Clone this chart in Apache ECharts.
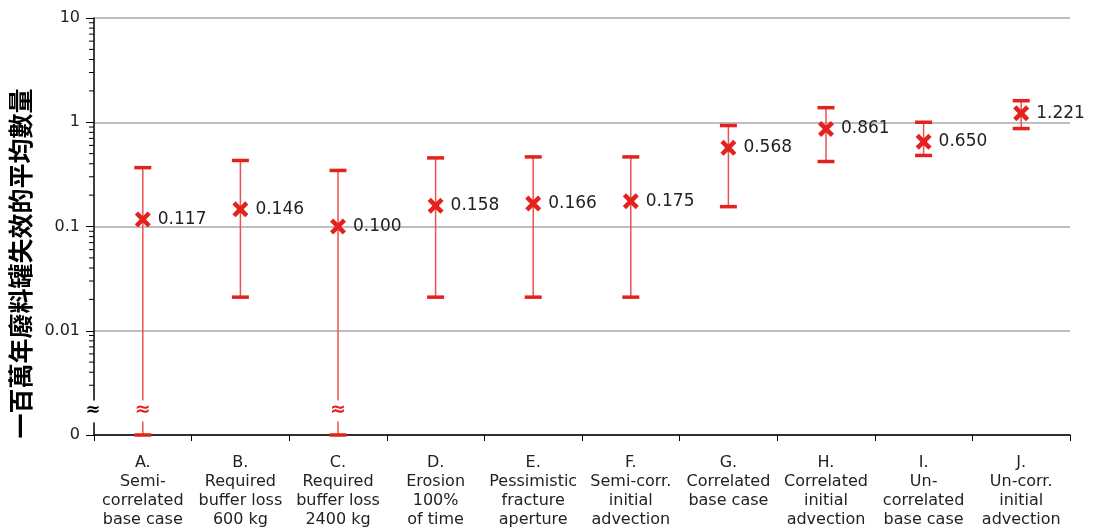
<!DOCTYPE html>
<html>
<head>
<meta charset="utf-8">
<script src="https://cdn.jsdelivr.net/npm/echarts@6/dist/echarts.min.js"></script>
<style>html,body{margin:0;padding:0;background:#fff}#c{width:1094px;height:531px}</style>
</head>
<body>
<div id="c"></div>
<script>
// ---- data ----
const categories = [
  'A.\nSemi-\ncorrelated\nbase case',
  'B.\nRequired\nbuffer loss\n600 kg',
  'C.\nRequired\nbuffer loss\n2400 kg',
  'D.\nErosion\n100%\nof time',
  'E.\nPessimistic\nfracture\naperture',
  'F.\nSemi-corr.\ninitial\nadvection',
  'G.\nCorrelated\nbase case',
  'H.\nCorrelated\ninitial\nadvection',
  'I.\nUn-\ncorrelated\nbase case',
  'J.\nUn-corr.\ninitial\nadvection'
];
const meanValues = [0.117, 0.146, 0.100, 0.158, 0.166, 0.175, 0.568, 0.861, 0.650, 1.221];
const lowerValues = [0, 0.021, 0, 0.021, 0.021, 0.021, 0.155, 0.42, 0.48, 0.87];
const upperValues = [0.367, 0.43, 0.345, 0.455, 0.465, 0.465, 0.93, 1.38, 1.0, 1.61];
const yTickLabels = {0.001: '0', 0.01: '0.01', 0.1: '0.1', 1: '1', 10: '10'};
const yAxisTitle = '一百萬年廢料罐失效的平均數量';

// ---- layout / style ----
const AXIS_MIN = 0.001, AXIS_MAX = 10;
const BREAK_VAL = 0.00172;
const RED = '#e3221e';
const LINE_RED = '#ec5050';
const FONT = 'DejaVu Sans, sans-serif';

const chart = echarts.init(document.getElementById('c'));

function errRender(params, api) {
  const i = api.value(0);
  const lo = api.value(1);
  const hi = api.value(2);
  const broken = lo === 0;
  const top = api.coord([i, hi]);
  const bot = api.coord([i, broken ? AXIS_MIN : lo]);
  const x = top[0];
  const capW = 17, capH = 3.5;
  const children = [];
  if (broken) {
    const b = api.coord([i, BREAK_VAL])[1];
    children.push({type: 'line', shape: {x1: x, y1: top[1], x2: x, y2: b - 10}, style: {stroke: LINE_RED, lineWidth: 1.5}});
    children.push({type: 'line', shape: {x1: x, y1: b + 11, x2: x, y2: bot[1]}, style: {stroke: LINE_RED, lineWidth: 1.5}});
    children.push({type: 'text', x: x, y: b, style: {text: '≈', fill: RED, font: 'bold 19px ' + FONT, align: 'center', verticalAlign: 'middle'}});
  } else {
    children.push({type: 'line', shape: {x1: x, y1: top[1], x2: x, y2: bot[1]}, style: {stroke: LINE_RED, lineWidth: 1.5}});
  }
  children.push({type: 'rect', shape: {x: x - capW / 2, y: top[1] - capH / 2, width: capW, height: capH}, style: {fill: RED}});
  children.push({type: 'rect', shape: {x: x - capW / 2, y: bot[1] - capH / 2, width: capW, height: capH}, style: {fill: RED}});
  return {type: 'group', children: children};
}

function axisDecorRender(params, api) {
  if (params.dataIndex !== 0) return;
  const cs = params.coordSys;
  const ax = cs.x;
  const children = [];
  // minor ticks
  for (let e = -3; e < 1; e++) {
    for (let m = 2; m <= 9; m++) {
      const v = m * Math.pow(10, e);
      if (v < 0.0028) continue;
      const y = api.coord([0, v])[1];
      children.push({type: 'line', shape: {x1: ax - 5, y1: y, x2: ax, y2: y}, style: {stroke: '#000', lineWidth: 1}});
    }
  }
  // axis break
  const b = api.coord([0, BREAK_VAL])[1];
  children.push({type: 'rect', shape: {x: ax - 9, y: b - 10, width: 18, height: 22}, style: {fill: '#fff'}});
  children.push({type: 'text', x: ax - 1, y: b, style: {text: '≈', fill: '#000', font: 'bold 18px ' + FONT, align: 'center', verticalAlign: 'middle'}});
  return {type: 'group', children: children};
}

const option = {
  animation: false,
  grid: {left: 94, right: 24, top: 18, bottom: 96},
  xAxis: {
    type: 'category',
    data: categories,
    axisLine: {lineStyle: {color: '#000', width: 1.5}},
    axisTick: {show: true, length: 6, lineStyle: {color: '#000', width: 1}},
    axisLabel: {color: '#222', fontFamily: FONT, fontSize: 16, lineHeight: 19, margin: 18, interval: 0}
  },
  yAxis: {
    type: 'log',
    logBase: 10,
    min: AXIS_MIN,
    max: AXIS_MAX,
    name: yAxisTitle,
    nameLocation: 'middle',
    nameGap: 57,
    nameTextStyle: {fontFamily: 'Noto Sans CJK TC', fontWeight: 'bold', fontSize: 25, color: '#000', padding: [0, 74, 0, 0]},
    axisLine: {show: true, lineStyle: {color: '#000', width: 1.5}},
    axisTick: {show: true, inside: false, length: 8, lineStyle: {color: '#000', width: 1}},
    axisLabel: {color: '#222', fontFamily: FONT, fontSize: 16, margin: 14,
      formatter: v => { const k = Object.keys(yTickLabels).find(t => Math.abs(+t - v) / v < 1e-6); return k ? yTickLabels[k] : ''; }},
    splitLine: {show: true, lineStyle: {color: '#a8a8a8', width: 1.5}}
  },
  series: [
    {
      type: 'custom',
      name: 'axisDecor',
      renderItem: axisDecorRender,
      data: [[0, 1]],
      z: 5,
      silent: true
    },
    {
      type: 'custom',
      name: 'errorbars',
      renderItem: errRender,
      encode: {x: 0, y: [1, 2]},
      data: categories.map((c, i) => [i, lowerValues[i], upperValues[i]]),
      z: 3,
      silent: true
    },
    {
      type: 'scatter',
      name: 'mean',
      data: categories.map((c, i) => [i, meanValues[i]]),
      symbol: 'path://M0,2 L2,0 L5,3 L8,0 L10,2 L7,5 L10,8 L8,10 L5,7 L2,10 L0,8 L3,5 Z',
      symbolSize: 16,
      itemStyle: {color: RED, opacity: 1},
      z: 4,
      label: {show: true, position: 'right', distance: 7, color: '#222', fontFamily: FONT, fontSize: 17,
        formatter: p => p.value[1].toFixed(3)}
    }
  ]
};
chart.setOption(option);
</script>
</body>
</html>
